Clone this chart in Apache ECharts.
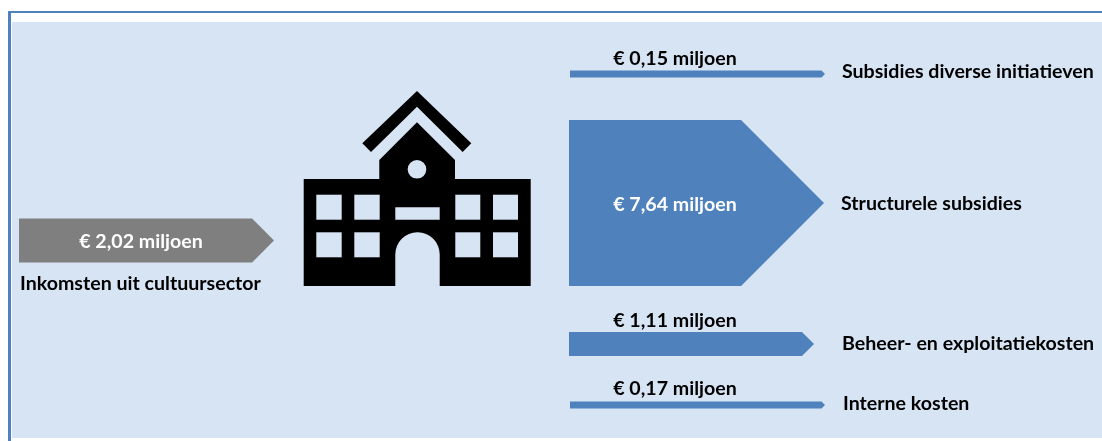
<!DOCTYPE html>
<html>
<head>
<meta charset="utf-8">
<title>Kapitaallasten cultuur</title>
<style>
  html, body { margin: 0; padding: 0; background: #fff; }
  #flow-chart { width: 1102px; height: 441px; }
</style>
<script src="https://cdn.jsdelivr.net/npm/echarts@6/dist/echarts.min.js"></script>
</head>
<body>
<div id="flow-chart"></div>
<script>
  // bedragen in miljoen euro
  var flowNames = ['Inkomsten uit cultuursector', 'Subsidies diverse initiatieven', 'Structurele subsidies', 'Beheer- en exploitatiekosten', 'Interne kosten'];
  var flowAmounts = [2.02, 0.15, 7.64, 1.11, 0.17];

  // plaats van elke pijl op het vlak, staat los van de data
  var flowLayout = [
    { left: 19, tip: 274, cy: 240.5, amountX: 141, amountY: 242, amountColor: '#fff', nameX: 20, nameY: 284 },
    { left: 570, tip: 825, cy: 74, amountX: 675, amountY: 59, amountColor: '#000', nameX: 842, nameY: 72 },
    { left: 569, tip: 824, cy: 203, amountX: 675, amountY: 205, amountColor: '#fff', nameX: 841, nameY: 204 },
    { left: 569, tip: 814, cy: 344, amountX: 675, amountY: 321, amountColor: '#000', nameX: 842, nameY: 344 },
    { left: 570, tip: 825, cy: 405, amountX: 675, amountY: 389, amountColor: '#000', nameX: 843, nameY: 404 }
  ];

  var BLUE = '#4f81bd';
  var GREY = '#7f7f7f';
  var PANEL = '#d7e4f4';
  var FONT = 'bold 19.6px Lato';
  var MIN_THICKNESS = 7;

  function formatAmount(value) {
    return '€ ' + value.toFixed(2).replace('.', ',') + ' miljoen';
  }

  function renderFlow(params, api) {
    var i = api.value(0);
    var pos = flowLayout[i];
    var thickness = Math.max(MIN_THICKNESS, api.size([0, api.value(1)])[1]);
    var half = thickness / 2;
    var x0 = api.coord([pos.left, 0])[0];
    var x1 = api.coord([pos.tip, 0])[0];
    return {
      type: 'group',
      children: [
        {
          type: 'polygon',
          shape: {
            points: [
              [x0, pos.cy - half],
              [x1 - half, pos.cy - half],
              [x1, pos.cy],
              [x1 - half, pos.cy + half],
              [x0, pos.cy + half]
            ]
          },
          style: { fill: i === 0 ? GREY : BLUE }
        },
        {
          type: 'text',
          z2: 5,
          style: {
            text: formatAmount(api.value(1)),
            x: pos.amountX,
            y: pos.amountY,
            fill: pos.amountColor,
            font: FONT,
            align: 'center',
            verticalAlign: 'middle'
          }
        },
        {
          type: 'text',
          z2: 5,
          style: {
            text: flowNames[i],
            x: pos.nameX,
            y: pos.nameY,
            fill: '#000',
            font: FONT,
            align: 'left',
            verticalAlign: 'middle'
          }
        }
      ]
    };
  }

  function windowRect(x, y, width, height) {
    return { type: 'rect', shape: { x: x, y: y, width: width, height: height }, style: { fill: PANEL } };
  }

  // het gebouw en de kader zijn versiering, geen data
  var buildingParts = [
    {
      type: 'polygon',
      shape: { points: [[417, 91], [471.3, 143.3], [462.7, 152], [417, 106.7], [371, 152], [362.3, 143.3]] },
      style: { fill: '#000' }
    },
    {
      type: 'polygon',
      shape: { points: [[417, 122.3], [455, 160], [455, 179], [530.7, 179], [530.7, 286], [303.7, 286], [303.7, 179], [379.3, 179], [379.3, 160]] },
      style: { fill: '#000' }
    },
    { type: 'circle', shape: { cx: 417, cy: 169.3, r: 9.3 }, style: { fill: PANEL } },
    windowRect(316.3, 194.7, 25.4, 25),
    windowRect(354.3, 194.7, 25.4, 25),
    windowRect(455.3, 194.7, 25, 25),
    windowRect(493, 194.7, 25, 25),
    windowRect(316.3, 232.3, 25.4, 25),
    windowRect(354.3, 232.3, 25.4, 25),
    windowRect(455.3, 232.3, 25, 25),
    windowRect(493, 232.3, 25, 25),
    windowRect(395.3, 207.3, 44.4, 12.4),
    {
      type: 'rect',
      shape: { x: 395.3, y: 232.3, width: 44.4, height: 53.7, r: [22, 22, 0, 0] },
      style: { fill: PANEL }
    }
  ];

  var frameParts = [
    { type: 'rect', shape: { x: 12, y: 22, width: 1090, height: 416 }, style: { fill: PANEL } },
    { type: 'rect', shape: { x: 8, y: 11, width: 1094, height: 2 }, style: { fill: BLUE } },
    { type: 'rect', shape: { x: 8, y: 11, width: 3, height: 430 }, style: { fill: BLUE } }
  ];

  var flowData = flowAmounts.map(function (amount, i) {
    return [i, amount];
  });

  var flowChart = echarts.init(document.getElementById('flow-chart'));

  flowChart.setOption({
    animation: false,
    backgroundColor: '#fff',
    grid: { left: 0, right: 0, top: 0, bottom: 0 },
    xAxis: { type: 'value', show: false, min: 0, max: 1102 },
    // 21,7 pixels per miljoen: dikte van de pijlen
    yAxis: { type: 'value', show: false, min: 0, max: 20.32 },
    graphic: { elements: frameParts.concat(buildingParts) },
    series: [{
      type: 'custom',
      coordinateSystem: 'cartesian2d',
      clip: false,
      silent: true,
      renderItem: renderFlow,
      encode: { x: 0, y: 1 },
      data: flowData
    }]
  });
</script>
</body>
</html>
